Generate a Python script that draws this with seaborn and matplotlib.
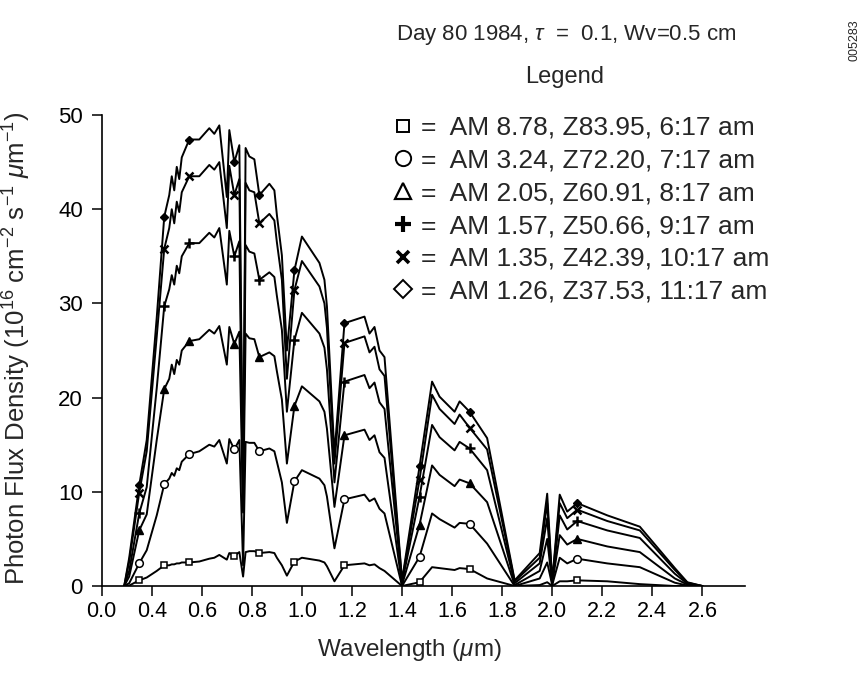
import pandas as pd
import seaborn as sns
import matplotlib.pyplot as plt
from matplotlib.lines import Line2D

# wavelength grid (um)
wavelength = [0.29, 0.31, 0.35, 0.38, 0.42, 0.45, 0.47, 0.48, 0.49, 0.50,
              0.51, 0.52, 0.55, 0.59, 0.63, 0.65, 0.67, 0.70, 0.71, 0.73,
              0.75, 0.765, 0.775, 0.79, 0.81, 0.83, 0.87, 0.89, 0.90, 0.92,
              0.94, 0.97, 1.00, 1.07, 1.09, 1.10, 1.13, 1.17, 1.25, 1.27,
              1.29, 1.31, 1.33, 1.40, 1.47, 1.52, 1.55, 1.61, 1.63, 1.67,
              1.74, 1.85, 1.95, 1.98, 2.00, 2.03, 2.06, 2.10, 2.22, 2.35,
              2.49, 2.54, 2.60]

# photon flux density, 10^16 cm-2 s-1 um-1
flux_0617 = [0, 0.05, 0.6, 0.9, 1.6, 2.2, 2.2, 2.3, 2.3, 2.4,
             2.4, 2.5, 2.5, 2.6, 2.9, 3.0, 3.3, 2.8, 3.5, 3.2,
             3.6, 1.0, 3.6, 3.7, 3.7, 3.5, 3.6, 3.5, 3.0, 2.2,
             1.1, 2.6, 3.0, 2.7, 2.5, 2.1, 0.5, 2.2, 2.4, 2.2,
             2.3, 1.9, 1.6, 0, 0.4, 2.0, 1.9, 1.7, 1.9, 1.8,
             0.8, 0, 0.1, 0.4, 0, 0.5, 0.5, 0.6, 0.5, 0.2,
             0, 0, 0]
flux_0717 = [0, 0.3, 2.4, 3.8, 7.5, 10.8, 11.4, 12.0, 11.7, 12.5,
             12.3, 13.2, 14.0, 14.3, 15.0, 14.8, 15.5, 13.0, 15.6, 14.5,
             15.5, 2.2, 15.3, 15.2, 15.2, 14.3, 14.6, 14.3, 13.2, 11.0,
             6.7, 11.1, 12.3, 11.4, 10.7, 9.5, 4.0, 9.2, 9.7, 9.0,
             9.3, 8.2, 7.7, 0, 3.1, 7.7, 7.1, 6.2, 6.7, 6.6,
             4.5, 0, 0.8, 2.5, 0.1, 3.0, 2.4, 2.9, 2.4, 2.0,
             0.35, 0.05, 0]
flux_0817 = [0, 1.0, 5.9, 7.6, 15.5, 20.9, 22.0, 23.5, 22.5, 24.0,
             23.5, 25.0, 26.0, 26.2, 27.2, 26.8, 27.6, 23.5, 27.5, 25.7,
             27.0, 7.8, 26.8, 26.3, 26.2, 24.3, 24.8, 24.4, 22.8, 19.8,
             13.0, 19.1, 21.2, 19.6, 18.5, 16.7, 8.4, 16.0, 16.6, 15.5,
             16.0, 14.2, 13.6, 0.1, 6.5, 12.8, 11.8, 10.6, 11.3, 10.9,
             8.9, 0.1, 1.6, 5.0, 0.2, 5.4, 4.4, 5.0, 4.2, 3.6,
             0.8, 0.15, 0]
flux_0917 = [0, 1.6, 7.7, 10.5, 21.0, 29.7, 31.5, 33.0, 32.0, 34.0,
             33.2, 35.0, 36.4, 36.4, 37.5, 37.0, 38.0, 32.0, 37.7, 35.0,
             36.6, 8.0, 36.2, 35.5, 35.3, 32.5, 33.3, 32.8, 30.8, 27.2,
             18.5, 26.1, 29.0, 26.8, 25.3, 23.0, 11.0, 21.7, 22.4, 21.0,
             21.6, 19.5, 18.8, 0.3, 9.5, 17.1, 15.8, 14.4, 15.3, 14.6,
             12.3, 0.3, 2.4, 7.2, 0.3, 7.5, 6.0, 6.9, 5.9, 5.1,
             1.3, 0.25, 0]
flux_1017 = [0, 2.6, 9.9, 14.3, 26.5, 35.8, 38.0, 40.0, 38.5, 40.8,
             39.7, 41.8, 43.5, 43.5, 44.7, 44.2, 45.0, 38.0, 44.6, 41.5,
             43.2, 8.3, 42.8, 42.0, 41.8, 38.5, 39.5, 38.8, 36.5, 32.5,
             22.0, 31.4, 34.5, 31.8, 30.0, 27.4, 13.0, 25.8, 26.5, 24.8,
             25.4, 23.0, 22.3, 0.5, 11.3, 20.3, 18.8, 17.2, 18.2, 16.8,
             14.5, 0.5, 3.0, 8.8, 0.4, 8.8, 7.2, 8.1, 6.9, 5.9,
             1.7, 0.35, 0]
flux_1117 = [0, 3.0, 10.7, 15.5, 28.5, 39.2, 41.5, 43.5, 42.0, 44.5,
             43.2, 45.5, 47.4, 47.4, 48.6, 48.0, 48.9, 41.3, 48.4, 45.0,
             46.8, 8.5, 46.5, 45.6, 45.3, 41.5, 42.7, 42.0, 39.4, 35.1,
             25.0, 33.5, 37.1, 34.3, 32.5, 29.7, 14.0, 27.9, 28.6, 26.8,
             27.5, 25.0, 24.3, 0.6, 12.7, 21.7, 20.1, 18.5, 19.6, 18.5,
             15.7, 0.6, 3.5, 9.8, 0.5, 9.7, 7.9, 8.8, 7.5, 6.3,
             1.9, 0.4, 0]

legend_labels = ["AM 8.78, Z83.95, 6:17 am",
                 "AM 3.24, Z72.20, 7:17 am",
                 "AM 2.05, Z60.91, 8:17 am",
                 "AM 1.57, Z50.66, 9:17 am",
                 "AM 1.35, Z42.39, 10:17 am",
                 "AM 1.26, Z37.53, 11:17 am"]

marker_wavelengths = [0.35, 0.45, 0.55, 0.73, 0.83, 0.97, 1.17, 1.47, 1.67, 2.10]
xtick_pos = [0.2, 0.4, 0.6, 0.8, 1.0, 1.2, 1.4, 1.6, 1.8, 2.0, 2.2, 2.4, 2.6]
xtick_labels = ["0.0", "0.4", "0.6", "0.8", "1.0", "1.2", "1.4", "1.6",
                "1.8", "2.0", "2.2", "2.4", "2.6"]
ytick_pos = [0, 10, 20, 30, 40, 50]

series = [flux_0617, flux_0717, flux_0817, flux_0917, flux_1017, flux_1117]
frames = []
for lab, vals in zip(legend_labels, series):
    frames.append(pd.DataFrame({"Wavelength": wavelength, "Flux": vals, "Time": lab}))
df = pd.concat(frames, ignore_index=True)

# marker style per series (plot) and for the legend
styles = [
    dict(marker="s", mfc="white", ms=5, mew=1.1),
    dict(marker="o", mfc="white", ms=5.5, mew=1.1),
    dict(marker="^", mfc="black", ms=5.5, mew=1.0),
    dict(marker="+", mfc="black", ms=7, mew=1.8),
    dict(marker="x", mfc="black", ms=5.5, mew=1.8),
    dict(marker="D", mfc="black", ms=4.5, mew=1.0),
]
legend_styles = [
    dict(marker="s", mfc="white", ms=9, mew=1.4),
    dict(marker="o", mfc="white", ms=11, mew=1.4),
    dict(marker="^", mfc="white", ms=11, mew=1.6),
    dict(marker="+", mfc="black", ms=11, mew=3.0),
    dict(marker="x", mfc="black", ms=8, mew=2.6),
    dict(marker="D", mfc="white", ms=9, mew=1.4),
]

sns.set_style("ticks")
plt.rcParams["font.family"] = ["Liberation Sans", "DejaVu Sans"]
plt.rcParams["mathtext.fontset"] = "custom"
plt.rcParams["mathtext.rm"] = "Liberation Sans"
plt.rcParams["mathtext.it"] = "Liberation Sans:italic"

fig = plt.figure(figsize=(8.66, 6.77), dpi=100)
ax = fig.add_axes([0.1174, 0.1344, 0.7428, 0.6957])

mark_idx = [wavelength.index(w) for w in marker_wavelengths]
for lab, st in zip(legend_labels, styles):
    sub = df[df["Time"] == lab]
    sns.lineplot(data=sub, x="Wavelength", y="Flux", ax=ax, color="black",
                 lw=1.4, legend=False, markevery=mark_idx, mec="black",
                 marker=st["marker"], mfc=st["mfc"], ms=st["ms"], mew=st["mew"])

ax.set_xlim(0.2, 2.77)
ax.set_ylim(0, 50)
ax.set_xticks(xtick_pos)
ax.set_xticklabels(xtick_labels, fontsize=15.5)
ax.set_yticks(ytick_pos)
ax.set_yticklabels([str(v) for v in ytick_pos], fontsize=16)
ax.tick_params(axis="x", direction="out", length=7, width=1.1, pad=4, colors="black")
ax.tick_params(axis="y", direction="out", length=7.5, width=1.1, pad=6, colors="black")
sns.despine(ax=ax)
for sp in ["left", "bottom"]:
    ax.spines[sp].set_linewidth(1.2)
    ax.spines[sp].set_color("black")

ax.set_xlabel(r"Wavelength ($\mu$m)", fontsize=17.5)
ax.xaxis.set_label_coords(0.479, -0.108)
ax.set_ylabel(r"Photon Flux Density (10$^{16}$ cm$^{-2}$ s$^{-1}$ $\mu$m$^{-1}$)", fontsize=18.5)
ax.yaxis.set_label_coords(-0.106, 0.505)

fig.text(566 / 866, 1 - 35 / 677, r"Day 80 1984, $\tau$  =  0.1, Wv=0.5 cm",
         ha="center", va="center", fontsize=16)
fig.text(565 / 866, 1 - 77 / 677, "Legend", ha="center", va="center", fontsize=17)
fig.text(855 / 866, 1 - 40 / 677, "005283", rotation=90, ha="center", va="center",
         fontsize=9)

handles = [Line2D([], [], ls="none", color="black", mec="black", **st) for st in legend_styles]
fig.legend(handles, ["=  " + t for t in legend_labels], loc="upper left",
           bbox_to_anchor=(390.5 / 866, 1 - 116 / 677), frameon=False,
           fontsize=19, handlelength=0.92, handletextpad=0.22,
           labelspacing=0.33, borderpad=0, borderaxespad=0)

fig.savefig("out.png", dpi=100)
